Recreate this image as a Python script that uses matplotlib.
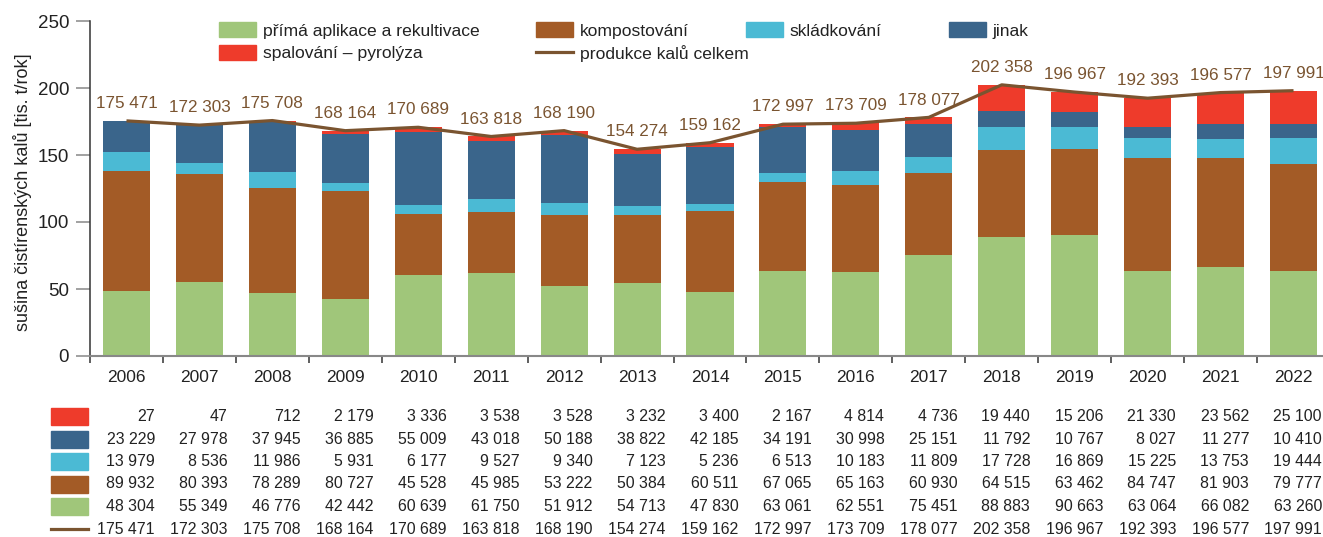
import numpy as np
import matplotlib
matplotlib.use("Agg")
import matplotlib.pyplot as plt
from matplotlib.patches import Rectangle, Patch
from matplotlib.lines import Line2D
from matplotlib.transforms import blended_transform_factory

plt.rcParams['font.family'] = ['Liberation Sans', 'DejaVu Sans']

years = [str(y) for y in range(2006, 2023)]
spalovani = [27, 47, 712, 2179, 3336, 3538, 3528, 3232, 3400, 2167, 4814, 4736, 19440, 15206, 21330, 23562, 25100]
jinak = [23229, 27978, 37945, 36885, 55009, 43018, 50188, 38822, 42185, 34191, 30998, 25151, 11792, 10767, 8027, 11277, 10410]
skladkovani = [13979, 8536, 11986, 5931, 6177, 9527, 9340, 7123, 5236, 6513, 10183, 11809, 17728, 16869, 15225, 13753, 19444]
kompostovani = [89932, 80393, 78289, 80727, 45528, 45985, 53222, 50384, 60511, 67065, 65163, 60930, 64515, 63462, 84747, 81903, 79777]
aplikace = [48304, 55349, 46776, 42442, 60639, 61750, 51912, 54713, 47830, 63061, 62551, 75451, 88883, 90663, 63064, 66082, 63260]
celkem = [175471, 172303, 175708, 168164, 170689, 163818, 168190, 154274, 159162, 172997, 173709, 178077, 202358, 196967, 192393, 196577, 197991]

c_green = '#a0c67a'
c_brown = '#a35b26'
c_cyan = '#4bbad4'
c_blue = '#3a658b'
c_red = '#ee3b2b'
c_line = '#7a5430'
c_text = '#222222'

W, H = 1323, 537
fig = plt.figure(figsize=(W / 100, H / 100), dpi=100)
ax = fig.add_axes([90 / W, (H - 356) / H, 1240 / W, 335 / H])

x = np.arange(len(years))
bw = 0.645
series = [(aplikace, c_green), (kompostovani, c_brown), (skladkovani, c_cyan),
          (jinak, c_blue), (spalovani, c_red)]
bottom = np.zeros(len(years))
for vals, col in series:
    v = np.array(vals) / 1000
    ax.bar(x, v, bw, bottom=bottom, color=col, linewidth=0, zorder=2)
    bottom += v

tot = np.array(celkem) / 1000
ax.plot(x, tot, color=c_line, lw=2.3, zorder=3, solid_capstyle='butt')
for xi, t, v in zip(x, tot, celkem):
    ax.annotate(f"{v:,}".replace(',', ' '), (xi, t), xytext=(0, 12.5), textcoords='offset points',
                ha='center', va='center', fontsize=12.3, color=c_line)

ax.set_xlim(-0.5, len(years) - 0.5)
ax.set_ylim(0, 250)
ax.set_yticks([0, 50, 100, 150, 200, 250])
ax.set_xticks(x)
ax.set_xticklabels(years)
ax.set_xticks(np.arange(-0.5, len(years)), minor=True)
ax.tick_params(axis='x', which='major', length=0, pad=10, labelsize=12.5, colors=c_text)
ax.tick_params(axis='x', which='minor', length=5, width=1.1, color='#333333', direction='out')
ax.tick_params(axis='y', length=10, width=1.1, color='#888888', pad=5, labelsize=13.5, labelcolor=c_text)
ax.spines['top'].set_visible(False)
ax.spines['right'].set_visible(False)
ax.spines['left'].set_color('#333333')
ax.spines['left'].set_linewidth(1.1)
ax.spines['bottom'].set_color('#888888')
ax.spines['bottom'].set_linewidth(1.5)
ax.set_ylabel("sušina čistírenských kalů [tis. t/rok]", fontsize=13, color=c_text)
ax.yaxis.set_label_coords(-0.047, 0.49)

# legend, placed column by column
leg_cols = [
    ([Patch(color=c_green), Patch(color=c_red)], ["přímá aplikace a rekultivace", "spalování – pyrolýza"], 219),
    ([Patch(color=c_brown), Line2D([], [], color=c_line, lw=2.3)], ["kompostování", "produkce kalů celkem"], 536),
    ([Patch(color=c_cyan)], ["skládkování"], 746),
    ([Patch(color=c_blue)], ["jinak"], 949),
]
for handles, labels, px in leg_cols:
    lg = fig.legend(handles, labels, loc='upper left', bbox_to_anchor=(px / W, 1 - 22 / H),
                    frameon=False, fontsize=12.6, handlelength=2.1, handleheight=0.95,
                    handletextpad=0.4, borderpad=0, borderaxespad=0, labelspacing=0.35)
    for t in lg.get_texts():
        t.set_color(c_text)

# data table below the chart
rows = [(spalovani, c_red), (jinak, c_blue), (skladkovani, c_cyan),
        (kompostovani, c_brown), (aplikace, c_green), (celkem, c_line)]
row_y = [416.5, 439, 461.5, 484, 506.5, 529]
tr = blended_transform_factory(ax.transData, fig.transFigure)
for (vals, col), ry in zip(rows, row_y):
    yf = 1 - ry / H
    if col == c_line:
        fig.add_artist(Line2D([51 / W, 88 / W], [yf, yf], color=col, lw=2.3))
    else:
        fig.add_artist(Rectangle((51 / W, 1 - (ry + 8.5) / H), 37 / W, 17 / H,
                                 color=col, transform=fig.transFigure))
    for xi, v in zip(x, vals):
        ax.text(xi + 0.39, yf, f"{v:,}".replace(',', ' '), transform=tr, ha='right', va='center',
                fontsize=11.4, color=c_text, clip_on=False)

fig.savefig("out.png", dpi=100)
